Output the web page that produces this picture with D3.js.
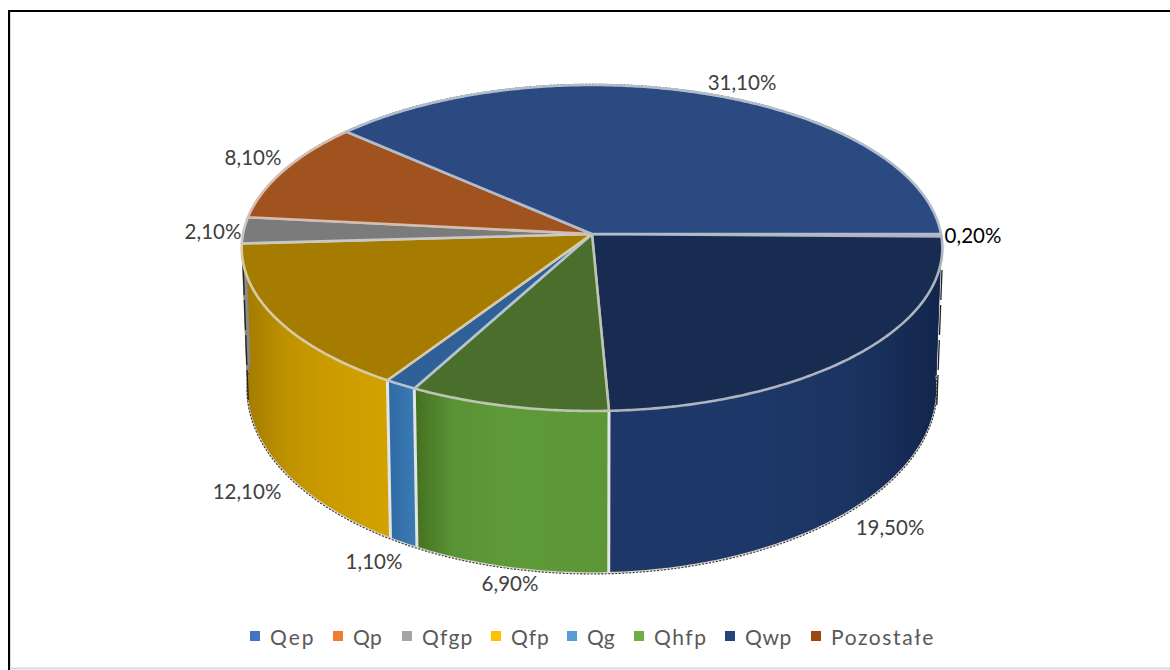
<!DOCTYPE html>
<html><head><meta charset="utf-8">
<script src="https://cdn.jsdelivr.net/npm/d3@7/dist/d3.min.js"></script>
<style>html,body{margin:0;padding:0;background:#fff;overflow:hidden}svg{display:block}text{font-family:Lato,"Open Sans",sans-serif}</style>
</head><body><svg id="c" width="1170" height="670"></svg>
<script>
// data, clockwise from due east
const sliceNames = ["Qp","Qwp","Qhfp","Qg","Qfp","Qfgp","Pozostałe","Qep"];
const sliceValues = [0.2,19.5,6.9,1.1,12.1,2.1,8.1,31.1];
const sliceLabels = ["0,20%","19,50%","6,90%","1,10%","12,10%","2,10%","8,10%","31,10%"];
const legendNames = ["Qep","Qp","Qfgp","Qfp","Qg","Qhfp","Qwp","Pozostałe"];
// styles
const legendColors = {Qep:"#4472c4",Qp:"#ed7d31",Qfgp:"#a5a5a5",Qfp:"#ffc000",Qg:"#5b9bd5",Qhfp:"#70ad47",Qwp:"#264478",Pozostałe:"#9e480e"};
const topColors = {Qep:"#2a4a81",Qp:"#2a4a81",Qfgp:"#7b7b7b",Qfp:"#a67c00",Qg:"#2f6198",Qhfp:"#4a6f2c",Qwp:"#182c52",Pozostałe:"#a0531f"};
const wallStops = {
  Qp:["#1c3768","#1c3768"],
  Qwp:["#1c3768","#1d3869","#1b3361","#12244a"],
  Qhfp:["#44701f","#5a9236","#5f9a38","#5c9637"],
  Qg:["#2f6aa3","#3b7bb5"],
  Qfp:["#a07800","#bf9200","#cb9c00","#d3a200"],
  Qfgp:["#8a8a8a","#8a8a8a"],
  Pozostałe:["#8a4a18","#8a4a18"],
  Qep:["#2b4c84","#2b4c84"]
};
// layout
const labelPos = {"Qep":[742,82],"Qp":[973,235],"Qwp":[890,527],"Qhfp":[510,583],"Qg":[374,561],"Qfp":[247,491],"Qfgp":[213,231],"Pozostałe":[253,157]};
const legendX = {Qep:250,Qp:333,Qfgp:402,Qfp:491,Qg:567,Qhfp:634,Qwp:725,"Pozostałe":811};
const legendSpacing = {Qep:2,Qp:0.3,Qfgp:1.2,Qfp:1,Qg:0.3,Qhfp:1.6,Qwp:0.6,"Pozostałe":1.6};
const topRim = {x0:592,y0:234,R:349,S:161.8,k:0.0859};
const botRim = {x0:592,y0:372.1,R:343.7,S:183.6,k:0.0859};

const svg = d3.select("#c");
const defs = svg.append("defs");
// frame
svg.append("rect").attr("x",10).attr("y",12).attr("width",1160).attr("height",656).attr("fill","#fff");
svg.append("line").attr("x1",10.5).attr("x2",10.5).attr("y1",12).attr("y2",668).attr("stroke","#d9d9d9").attr("stroke-width",1);
svg.append("line").attr("x1",10).attr("x2",1170).attr("y1",668.5).attr("y2",668.5).attr("stroke","#d9d9d9").attr("stroke-width",2);
svg.append("line").attr("x1",9).attr("x2",9).attr("y1",10).attr("y2",670).attr("stroke","#000").attr("stroke-width",2);
svg.append("line").attr("x1",8).attr("x2",1170).attr("y1",11).attr("y2",11).attr("stroke","#000").attr("stroke-width",2);

const project = (rim,t)=>{
  const u=Math.cos(t), v=Math.sin(t), w=1-rim.k*v;
  return [rim.x0+rim.R*u/w, rim.y0+rim.S*v/w];
};
const samples = (a,b)=>{
  const n=Math.max(2,Math.ceil(Math.abs(b-a)/0.01));
  return d3.range(n+1).map(i=>a+(b-a)*i/n);
};
const line = d3.line();
const pie = d3.pie().sort(null).startAngle(Math.PI/2).endAngle(Math.PI/2+2*Math.PI);
const arcs = pie(sliceValues).map((d,i)=>({name:sliceNames[i],label:sliceLabels[i],a:d.startAngle-Math.PI/2,b:d.endAngle-Math.PI/2}));

// walls (only the part facing the viewer)
const front = arcs.filter(d=>d.a<Math.PI+0.05).map(d=>({...d,wa:d.a,wb:Math.min(d.b,Math.PI+0.05)}));
front.forEach((d,i)=>{
  const ts=samples(d.wa,d.wb);
  const pts=ts.map(t=>project(topRim,t)).concat(ts.slice().reverse().map(t=>project(botRim,t)));
  const xs=d3.extent(pts,p=>p[0]);
  d.pts=pts;
  d.id="wall"+i;
  const stops=wallStops[d.name];
  const g=defs.append("linearGradient").attr("id",d.id).attr("gradientUnits","userSpaceOnUse").attr("x1",xs[0]).attr("x2",xs[1]).attr("y1",0).attr("y2",0);
  const offs=stops.length===4?(d.name==="Qhfp"?[0,.2,.5,1]:d.name==="Qfp"?[0,.3,.6,1]:[0,.4,.75,1]):[0,1];
  stops.forEach((c,j)=>g.append("stop").attr("offset",offs[j]).attr("stop-color",c));
});
svg.append("g").selectAll("path").data(front).join("path")
  .attr("d",d=>line(d.pts)+"Z").attr("fill",d=>`url(#${d.id})`).attr("stroke",d=>`url(#${d.id})`).attr("stroke-width",.6);

// wall separators
const seps = arcs.filter(d=>d.name==="Qhfp"||d.name==="Qg"||d.name==="Qwp").map(d=>d.b);
svg.append("g").selectAll("line").data(seps).join("line")
  .attr("x1",t=>project(topRim,t)[0]).attr("y1",t=>project(topRim,t)[1])
  .attr("x2",t=>project(botRim,t)[0]).attr("y2",t=>project(botRim,t)[1])
  .attr("stroke","#e2e4e6").attr("stroke-width",3);

// lower edge highlight and dotted outline
svg.append("path").attr("d",line(samples(0.02,Math.PI-0.02).map(t=>project(botRim,t))))
  .attr("fill","none").attr("stroke","#d8d4cc").attr("stroke-width",1.5);
svg.append("path").attr("d",line(samples(0.0,Math.PI).map(t=>{const p=project(botRim,t);return [p[0],p[1]+1];})))
  .attr("fill","none").attr("stroke","#333").attr("stroke-width",1.1).attr("stroke-dasharray","2 1.5");
svg.append("path").attr("d",line(samples(Math.PI*1.04,Math.PI*1.96).map(t=>{const p=project(topRim,t);return [p[0],p[1]-.8];})))
  .attr("fill","none").attr("stroke","#333").attr("stroke-width",1).attr("stroke-dasharray","2 1.5");
[[Math.PI+0.03,-1],[0.0,1]].forEach(([t,s])=>{
  const A=project(topRim,t),B=project(botRim,t);
  svg.append("line").attr("x1",A[0]+s).attr("y1",A[1]+36).attr("x2",B[0]+s).attr("y2",B[1]+36)
    .attr("stroke","#222").attr("stroke-width",1.3).attr("stroke-dasharray","30 5");
});

// top face
svg.append("g").selectAll("path").data(arcs).join("path")
  .attr("d",d=>line([[topRim.x0,topRim.y0]].concat(samples(d.a,d.b).map(t=>project(topRim,t))))+"Z")
  .attr("fill",d=>topColors[d.name])
  .attr("stroke",d=>d3.interpolateRgb(topColors[d.name],"#e8e8e8")(0.72))
  .attr("stroke-width",2.6).attr("stroke-linejoin","round");

// data labels
svg.append("g").selectAll("text").data(arcs).join("text")
  .attr("x",d=>labelPos[d.name][0]).attr("y",d=>labelPos[d.name][1])
  .attr("text-anchor","middle").attr("dominant-baseline","central")
  .attr("font-size",20.5).attr("fill",d=>d.name==="Qp"?"#000":"#404040")
  .text(d=>d.label);

// legend
const lg=svg.append("g").selectAll("g").data(legendNames).join("g").attr("transform",d=>`translate(${legendX[d]},631)`);
lg.append("rect").attr("width",10).attr("height",10).attr("fill",d=>legendColors[d]);
lg.append("text").attr("x",20).attr("y",5).attr("dominant-baseline","central").attr("font-size",21)
  .attr("letter-spacing",d=>legendSpacing[d]).attr("fill","#595959").text(d=>d);
</script></body></html>
